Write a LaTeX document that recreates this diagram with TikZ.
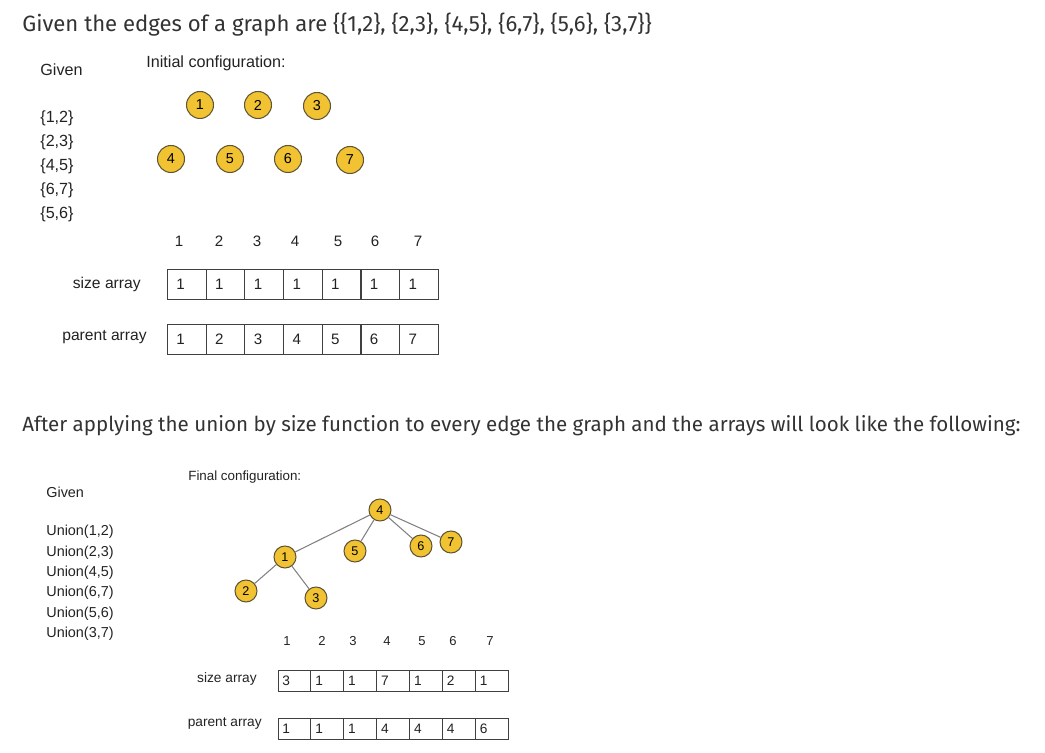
\documentclass[tikz,border=0pt]{standalone}
\usepackage{fontspec}
\setmainfont{Liberation Sans}
\newfontfamily\titlefont{Fira Sans}
\definecolor{nodeyellow}{HTML}{F1C232}
\definecolor{nodeline}{HTML}{5E5536}
\definecolor{txt}{HTML}{222222}
\begin{document}
\begin{tikzpicture}[x=0.02cm,y=-0.02cm,
  headline/.style={font=\titlefont, text=black!80, anchor=west, inner sep=0},
  lbl/.style={font=\fontsize{9.2}{11}\selectfont, text=txt, anchor=west, inner sep=0},
  slbl/.style={font=\fontsize{8.2}{10}\selectfont, text=txt, anchor=west, inner sep=0},
  tlbl/.style={font=\fontsize{7.6}{9}\selectfont, text=txt, anchor=west, inner sep=0},
  vtx/.style={circle, fill=nodeyellow, draw=nodeline, line width=0.6pt, minimum size=0.54cm, inner sep=0, font=\fontsize{8.2}{9}\selectfont},
  svtx/.style={circle, fill=nodeyellow, draw=nodeline, line width=0.6pt, minimum size=0.44cm, inner sep=0, font=\fontsize{7.2}{8}\selectfont},
  edge/.style={draw=black!50, line width=0.6pt},
  cellA/.style={draw=black!75, line width=0.5pt, minimum height=0.6cm, text width=0.414cm, inner xsep=0.18cm, inner ysep=0, align=left, anchor=west, font=\fontsize{8.6}{10}\selectfont, text=txt},
  cellB/.style={draw=black!75, line width=0.5pt, minimum height=0.42cm, text width=0.478cm, inner xsep=0.09cm, inner ysep=0, align=left, anchor=west, font=\fontsize{7.8}{9}\selectfont, text=txt},
  idxA/.style={font=\fontsize{8.6}{10}\selectfont, text=txt, inner sep=0},
  idxB/.style={font=\fontsize{7.4}{9}\selectfont, text=txt, inner sep=0},
  arrlbl/.style={font=\fontsize{8.9}{11}\selectfont, text=txt, anchor=east, inner sep=0},
  sarrlbl/.style={font=\fontsize{7.8}{10}\selectfont, text=txt, anchor=east, inner sep=0}
]
\useasboundingbox (0,0) rectangle (1045,753);

% headings
\node[headline, font=\titlefont\fontsize{12.6}{14}\selectfont] (title) at (22,25) {Given the edges of a graph are \{\{1,2\}, \{2,3\}, \{4,5\}, \{6,7\}, \{5,6\}, \{3,7\}\}};
\node[headline, font=\titlefont\fontsize{11.7}{14}\selectfont] (after) at (22,426) {After applying the union by size function to every edge the graph and the arrays will look like the following:};

% top part
\node[lbl] (given1) at (40,70) {Given};
\node[lbl] (init) at (146,63) {Initial configuration:};
\node[lbl] (e1) at (40,118) {\{1,2\}};
\node[lbl] (e2) at (40,142) {\{2,3\}};
\node[lbl] (e3) at (40,166) {\{4,5\}};
\node[lbl] (e4) at (40,190) {\{6,7\}};
\node[lbl] (e5) at (40,214) {\{5,6\}};

\node[vtx] (t1) at (200,105) {1};
\node[vtx] (t2) at (258,105) {2};
\node[vtx] (t3) at (317,106) {3};
\node[vtx] (t4) at (171,159) {4};
\node[vtx] (t5) at (230,159) {5};
\node[vtx] (t6) at (288,159) {6};
\node[vtx] (t7) at (350,160) {7};

\foreach \x [count=\i] in {179,219,257,295,338,375,418}
  \node[idxA] (i\i) at (\x,241) {\i};

\node[arrlbl] (sizeA) at (141,284) {size array};
\node[arrlbl] (parA) at (147,337) {parent array};
\foreach \v [count=\i] in {1,1,1,1,1,1,1}
  \node[cellA] (s\i) at ({167+38.7*(\i-1)},284) {\v};
\foreach \v [count=\i] in {1,2,3,4,5,6,7}
  \node[cellA] (p\i) at ({167+38.7*(\i-1)},339) {\v};

% bottom part
\node[tlbl] (final) at (188,477) {Final configuration:};
\node[slbl] (given2) at (46,492) {Given};
\node[slbl] (u1) at (46,532) {Union(1,2)};
\node[slbl] (u2) at (46,553) {Union(2,3)};
\node[slbl] (u3) at (46,573) {Union(4,5)};
\node[slbl] (u4) at (46,593) {Union(6,7)};
\node[slbl] (u5) at (46,614) {Union(5,6)};
\node[slbl] (u6) at (46,634) {Union(3,7)};

\node[svtx] (b4) at (380,510) {4};
\node[svtx] (b1) at (285,557) {1};
\node[svtx] (b5) at (355,551) {5};
\node[svtx] (b6) at (421,546) {6};
\node[svtx] (b7) at (451,542) {7};
\node[svtx] (b2) at (246,591) {2};
\node[svtx] (b3) at (316,598) {3};
\draw[edge] (b4) -- (b1);
\draw[edge] (b4) -- (b5);
\draw[edge] (b4) -- (b6);
\draw[edge] (b4) -- (b7);
\draw[edge] (b1) -- (b2);
\draw[edge] (b1) -- (b3);

\foreach \x [count=\i] in {287,322,353,387,422,453,490}
  \node[idxB] (I\i) at (\x,641) {\i};

\node[sarrlbl] (sizeB) at (257,679) {size array};
\node[sarrlbl] (parB) at (262,723) {parent array};
\foreach \v [count=\i] in {3,1,1,7,1,2,1}
  \node[cellB] (S\i) at ({277.5+32.9*(\i-1)},680.5) {\v};
\foreach \v [count=\i] in {1,1,1,4,4,4,6}
  \node[cellB] (P\i) at ({277.5+32.9*(\i-1)},728.5) {\v};
\end{tikzpicture}
\end{document}
